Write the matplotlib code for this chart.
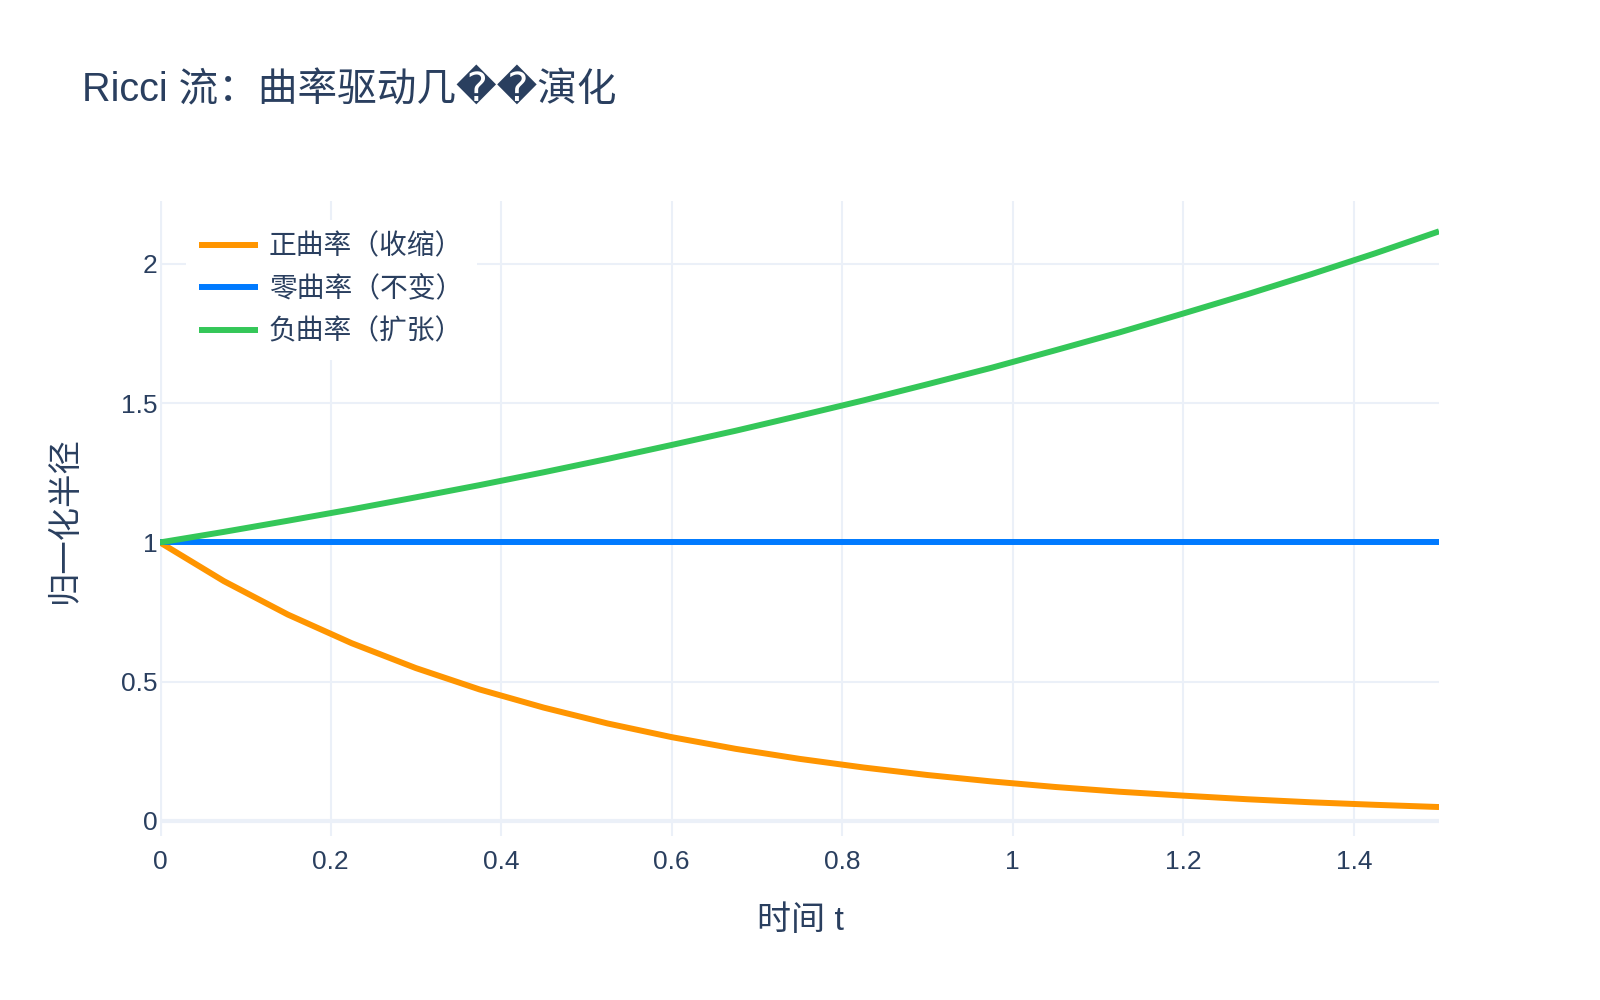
import matplotlib
matplotlib.use("Agg")
import matplotlib.pyplot as plt

plt.rcParams['font.family'] = ['Liberation Sans', 'Noto Sans CJK SC', 'DejaVu Sans']

# data
t = [0.0, 0.075, 0.15, 0.225, 0.3, 0.375, 0.45, 0.525, 0.6, 0.675, 0.75,
     0.825, 0.9, 0.975, 1.05, 1.125, 1.2, 1.275, 1.35, 1.425, 1.5]
positive = [1.0, 0.861, 0.741, 0.638, 0.549, 0.472, 0.407, 0.350, 0.301, 0.259, 0.223,
            0.192, 0.165, 0.142, 0.122, 0.105, 0.091, 0.078, 0.067, 0.058, 0.050]
zero = [1.0] * len(t)
negative = [1.0, 1.038, 1.078, 1.119, 1.162, 1.206, 1.252, 1.300, 1.350, 1.401, 1.455,
            1.510, 1.568, 1.627, 1.690, 1.754, 1.822, 1.891, 1.963, 2.038, 2.117]

labels = ["正曲率（收缩）", "零曲率（不变）", "负曲率（扩张）"]
colors = ["#FF9500", "#007AFF", "#34C759"]
xticks = [0, 0.2, 0.4, 0.6, 0.8, 1.0, 1.2, 1.4]
xticklabels = ["0", "0.2", "0.4", "0.6", "0.8", "1", "1.2", "1.4"]
yticks = [0, 0.5, 1.0, 1.5, 2.0]
yticklabels = ["0", "0.5", "1", "1.5", "2"]

txt = "#2a3f5f"
grid = "#EBF0F8"

fig = plt.figure(figsize=(16, 10), dpi=100)
ax = fig.add_axes([0.1, 0.164, 0.7994, 0.635])

for ys, lab, c in zip([positive, zero, negative], labels, colors):
    ax.plot(t, ys, color=c, lw=4.3, label=lab, solid_capstyle='butt', zorder=3)

ax.set_xlim(0, 1.5)
ax.set_ylim(-0.054, 2.226)
ax.set_xticks(xticks)
ax.set_xticklabels(xticklabels)
ax.set_yticks(yticks)
ax.set_yticklabels(yticklabels)
ax.tick_params(length=0, labelsize=19, labelcolor=txt)
ax.tick_params(axis='x', pad=10)
ax.tick_params(axis='y', pad=2)
ax.grid(True, color=grid, lw=1.5, zorder=0)
ax.set_axisbelow(True)
ax.axhline(0, color=grid, lw=3, zorder=1)
ax.axvline(0, color=grid, lw=3, zorder=1)
for s in ax.spines.values():
    s.set_visible(False)

leg = ax.legend(loc='upper left', bbox_to_anchor=(0.02, 0.97), borderaxespad=0,
                frameon=True, fontsize=20, handlelength=2.1, handletextpad=0.4,
                labelspacing=0.58, borderpad=0.5)
leg.get_frame().set_facecolor('white')
leg.get_frame().set_edgecolor('none')
leg.get_frame().set_alpha(1)
for text in leg.get_texts():
    text.set_color(txt)

fig.text(0.051, 0.911, "Ricci 流：曲率驱动几\ufffd\ufffd演化", fontsize=28.5, color=txt,
         ha='left', va='center')
fig.text(0.5006, 0.079, "时间 t", fontsize=24.5, color=txt, ha='center', va='center')
fig.text(0.041, 0.48, "归一化半径", fontsize=24, color=txt, ha='center', va='center',
         rotation=90)

fig.savefig("out.png", dpi=100, facecolor='white')
